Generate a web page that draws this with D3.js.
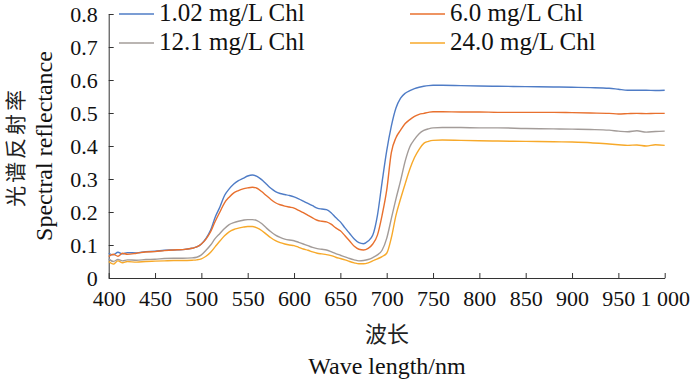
<!DOCTYPE html>
<html>
<head>
<meta charset="utf-8">
<script src="https://cdn.jsdelivr.net/npm/d3@7"></script>
<style>
  body { margin: 0; background: #fff; }
  svg { display: block; }
</style>
</head>
<body>
<svg id="chart" width="700" height="384"></svg>
<script>
// wavelengths (nm)
const wavelengths = [400,405,410,415,420,430,440,450,460,470,480,490,495,500,505,510,515,520,525,530,
  535,540,545,550,555,560,565,570,575,580,585,590,595,600,605,610,615,620,625,630,
  635,640,645,650,655,660,665,670,675,680,685,690,695,700,705,710,715,720,725,730,
  735,740,745,750,760,780,800,820,850,880,900,920,940,950,960,970,980,990,1000];

const chl102 = [.075,.070,.078,.073,.077,.076,.080,.081,.084,.085,.086,.090,.094,.103,.120,.145,.185,.215,.250,.270,
  .285,.295,.302,.309,.312,.308,.298,.285,.272,.262,.256,.253,.250,.246,.240,.233,.226,.219,.212,.209,
  .207,.198,.183,.170,.152,.135,.118,.107,.104,.112,.130,.190,.290,.385,.460,.515,.545,.560,.568,.574,
  .578,.581,.583,.584,.584,.583,.582,.581,.580,.579,.578,.577,.575,.572,.569,.569,.569,.568,.569];

const chl60 = [.065,.072,.066,.075,.072,.075,.079,.080,.083,.085,.086,.090,.094,.103,.118,.140,.172,.200,.228,.245,
  .258,.265,.270,.273,.275,.272,.262,.250,.238,.228,.222,.218,.215,.212,.205,.198,.190,.182,.175,.172,
  .170,.163,.152,.143,.128,.112,.096,.087,.085,.090,.103,.130,.190,.266,.380,.425,.448,.468,.480,.490,
  .496,.499,.502,.504,.504,.503,.503,.502,.502,.502,.501,.500,.499,.497,.498,.499,.498,.499,.499];

const chl121 = [.058,.050,.056,.052,.055,.054,.056,.057,.059,.060,.060,.061,.063,.070,.084,.100,.120,.135,.150,.162,
  .168,.172,.175,.177,.177,.174,.165,.152,.140,.130,.123,.118,.115,.113,.108,.103,.098,.093,.089,.087,
  .085,.080,.074,.069,.064,.059,.055,.052,.053,.056,.062,.070,.084,.120,.180,.240,.295,.355,.398,.420,
  .437,.447,.452,.455,.456,.456,.455,.455,.453,.452,.451,.450,.448,.445,.443,.446,.442,.444,.445];

const chl240 = [.050,.042,.052,.046,.050,.048,.050,.051,.052,.053,.053,.054,.055,.058,.066,.078,.095,.112,.128,.140,
  .147,.151,.154,.156,.156,.152,.144,.133,.122,.113,.107,.103,.100,.098,.093,.088,.084,.079,.075,.073,
  .071,.068,.063,.059,.055,.050,.046,.043,.043,.046,.052,.058,.065,.075,.122,.190,.240,.286,.330,.365,
  .390,.408,.414,.417,.418,.417,.416,.415,.414,.413,.412,.410,.406,.404,.402,.403,.400,.404,.402];

const seriesNames = ["1.02 mg/L Chl", "6.0 mg/L Chl", "12.1 mg/L Chl", "24.0 mg/L Chl"];
const seriesColors = ["#4F7CC6", "#E8702E", "#A39C99", "#F7A92A"];
const seriesValues = [chl102, chl60, chl121, chl240];

const xTicks = [400,450,500,550,600,650,700,750,800,850,900,950,1000];
const yTicks = [0,0.1,0.2,0.3,0.4,0.5,0.6,0.7,0.8];

const SERIF = "'Liberation Serif', 'Times New Roman', serif";
const CJK = "'Noto Sans CJK SC', sans-serif";

const svg = d3.select("#chart");

const x = d3.scaleLinear().domain([400, 1000]).range([108.7, 664.7]);
const y = d3.scaleLinear().domain([0, 0.8]).range([278, 14]);

//axes, ticks pointing inward
svg.append("g")
  .attr("transform", "translate(0,278)")
  .call(d3.axisBottom(x).tickValues(xTicks).tickSizeInner(-5).tickSizeOuter(0)
    .tickPadding(12)
    .tickFormat(d => d === 1000 ? "1 000" : d))
  .call(g => g.selectAll("text").style("font-family", SERIF).style("font-size", "22px").attr("fill", "#111"))
  .call(g => g.selectAll("line, path").attr("stroke", "#333"));

svg.append("g")
  .attr("transform", "translate(108.7,0)")
  .call(d3.axisLeft(y).tickValues(yTicks).tickSizeInner(-5).tickSizeOuter(0)
    .tickPadding(11)
    .tickFormat(d => d === 0 ? "0" : d.toFixed(1)))
  .call(g => g.selectAll("text").style("font-family", SERIF).style("font-size", "22px").attr("fill", "#111"))
  .call(g => g.selectAll("line, path").attr("stroke", "#333"));

//curves
const line = d3.line()
  .x((d, i) => x(wavelengths[i]))
  .y(d => y(d))
  .curve(d3.curveMonotoneX);

seriesValues.forEach((vals, i) => {
  svg.append("path")
    .attr("d", line(vals))
    .attr("fill", "none")
    .attr("stroke", seriesColors[i])
    .attr("stroke-width", 1.4);
});

//legend, two columns
const legendPos = [[119, 14], [410, 14], [119, 43], [410, 43]];
seriesNames.forEach((name, i) => {
  const [lx, ly] = legendPos[i];
  svg.append("line")
    .attr("x1", lx).attr("x2", lx + 35)
    .attr("y1", ly).attr("y2", ly)
    .attr("stroke", seriesColors[i]).attr("stroke-width", 1.4);
  svg.append("text")
    .attr("x", lx + 40).attr("y", ly + 7)
    .style("font-family", SERIF)
    .style("font-size", "25px").attr("fill", "#111")
    .text(name);
});

//axis titles
svg.append("text")
  .attr("transform", "translate(16,147) rotate(-90)")
  .attr("dy", "0.35em")
  .attr("text-anchor", "middle")
  .style("font-family", CJK)
  .style("font-size", "21px").style("letter-spacing", "3px").attr("fill", "#222")
  .text("光谱反射率");

svg.append("text")
  .attr("transform", "translate(44,146) rotate(-90)")
  .attr("dy", "0.35em")
  .attr("text-anchor", "middle")
  .style("font-family", SERIF)
  .style("font-size", "24px").attr("fill", "#111")
  .text("Spectral reflectance");

svg.append("text")
  .attr("x", 387).attr("y", 342)
  .attr("text-anchor", "middle")
  .style("font-family", CJK)
  .style("font-size", "22px").attr("fill", "#222")
  .text("波长");

svg.append("text")
  .attr("x", 387).attr("y", 374)
  .attr("text-anchor", "middle")
  .style("font-family", SERIF)
  .style("font-size", "24px").attr("fill", "#111")
  .text("Wave length/nm");
</script>
</body>
</html>
